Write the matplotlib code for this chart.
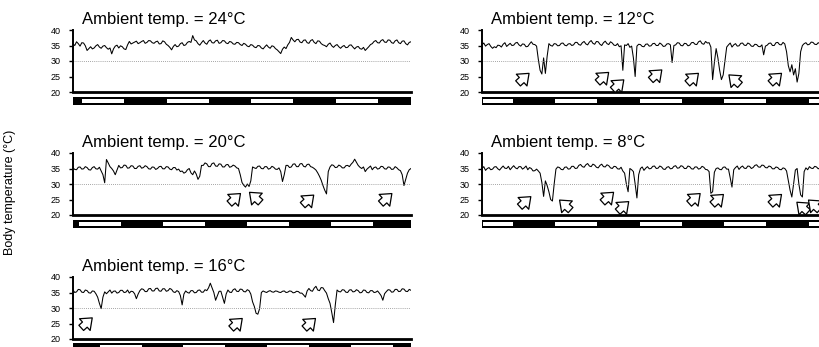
import numpy as np
import matplotlib
matplotlib.use("Agg")
import matplotlib.pyplot as plt
from matplotlib.transforms import ScaledTranslation

plt.rcParams['font.family'] = ['Liberation Sans', 'DejaVu Sans']

# ---------------- data (one reading every 0.5 h, 0-96 h) ----------------
STEP_H = 0.5

temp_24 = [35.5, 35.0, 36.2, 35.6, 34.8, 35.9, 35.8, 34.9, 33.4, 34.0, 34.6, 33.9, 34.2, 34.9, 35.3, 34.5,
           34.1, 34.8, 35.0, 34.3, 33.8, 34.2, 32.3, 33.9, 34.8, 35.1, 34.2, 34.9, 34.6, 33.9, 33.7, 35.2,
           36.3, 35.5, 35.8, 36.1, 36.4, 35.6, 35.9, 36.3, 36.6, 35.7, 36.0, 36.6, 36.5, 35.9, 35.7, 36.2,
           36.4, 35.5, 35.6, 36.5, 36.2, 35.4, 35.0, 34.4, 33.6, 34.7, 35.3, 34.6, 34.8, 35.6, 35.9, 35.0,
           35.2, 36.0, 36.3, 36.0, 38.2, 36.8, 36.5, 35.6, 35.1, 35.9, 36.6, 35.8, 35.4, 36.4, 36.8, 35.9,
           35.8, 36.5, 36.7, 35.7, 35.9, 36.6, 36.5, 35.8, 35.6, 36.3, 36.1, 35.5, 35.4, 36.0, 35.9, 35.3,
           35.0, 35.7, 35.4, 34.8, 34.6, 35.3, 35.1, 34.5, 34.3, 35.0, 34.9, 34.2, 33.9, 34.6, 35.2, 34.5,
           34.1, 34.9, 34.7, 34.0, 33.6, 33.0, 32.4, 33.8, 34.5, 34.0, 35.2, 36.0, 37.6, 36.8, 36.2, 36.9,
           37.0, 36.1, 35.9, 36.7, 36.8, 35.9, 35.7, 36.6, 36.9, 36.0, 35.6, 36.5, 36.4, 35.6, 35.2, 35.0,
           34.6, 35.4, 35.8, 34.9, 34.4, 35.0, 35.3, 34.6, 34.1, 34.7, 35.0, 34.3, 34.4, 35.1, 35.2, 34.5,
           33.9, 34.5, 34.7, 34.0, 33.8, 34.4, 33.4, 34.0, 34.6, 35.3, 35.6, 36.3, 36.6, 35.9, 35.8, 36.6,
           36.9, 36.1, 36.0, 36.8, 36.7, 35.9, 35.7, 36.5, 36.8, 35.9, 35.6, 36.4, 36.5, 35.6, 35.2, 36.0,
           36.2]

temp_12 = [35.2, 35.8, 34.8, 35.3, 35.6, 34.7, 34.1, 34.6, 34.3, 35.1, 35.0, 34.5, 35.4, 35.9, 34.7, 35.2,
           35.7, 35.0, 35.1, 35.8, 36.0, 35.2, 34.8, 35.5, 35.4, 34.6, 34.7, 35.5, 36.2, 35.4, 35.3, 34.8,
           30.5, 27.0, 25.8, 31.0, 26.0, 31.5, 35.6, 35.0, 34.8, 35.6, 35.5, 34.9, 35.0, 35.7, 35.8, 35.1,
           34.9, 35.5, 35.6, 35.0, 35.2, 36.0, 36.0, 35.3, 35.1, 35.9, 36.3, 35.5, 35.2, 36.1, 36.6, 35.7,
           35.4, 36.3, 36.2, 35.4, 35.0, 35.9, 36.4, 35.6, 35.3, 36.2, 35.8, 35.1, 35.0, 35.6, 34.6, 34.9,
           27.0, 35.2, 35.0, 35.6, 34.4, 34.8, 31.0, 25.0, 34.8, 35.4, 35.3, 34.7, 34.6, 35.4, 35.5, 34.8,
           34.9, 35.6, 35.7, 35.0, 35.0, 35.8, 35.4, 34.7, 34.8, 35.5, 35.6, 35.2, 29.5, 35.0, 35.2, 35.9,
           35.8, 35.0, 34.9, 35.7, 35.6, 34.9, 35.1, 35.9, 36.0, 35.4, 35.3, 36.2, 36.5, 35.6, 35.4, 36.3,
           35.8, 35.9, 34.5, 24.0, 29.5, 34.0, 31.0, 27.0, 24.0, 25.5, 30.0, 34.5, 35.2, 35.8, 34.5, 35.2,
           35.6, 34.8, 34.9, 35.7, 35.8, 35.1, 35.0, 35.8, 35.5, 34.8, 34.7, 35.4, 35.3, 34.7, 34.6, 35.2,
           32.0, 34.8, 35.1, 35.7, 35.8, 35.0, 35.0, 35.9, 36.0, 35.3, 35.2, 36.0, 35.5, 33.0, 28.5, 26.5,
           28.8, 25.5, 27.5, 23.2, 26.0, 33.0, 35.0, 35.6, 35.9, 35.2, 35.4, 36.1, 36.0, 35.4, 35.3, 35.9,
           35.6]

temp_20 = [35.2, 34.7, 34.6, 35.4, 35.5, 34.8, 34.9, 35.6, 35.3, 34.6, 34.5, 35.3, 35.6, 34.9, 34.8, 35.4,
           34.2, 33.0, 30.4, 37.9, 36.8, 35.6, 35.0, 34.2, 33.0, 34.5, 36.0, 35.2, 35.3, 36.1, 36.0, 35.1,
           35.2, 35.9, 35.8, 35.0, 35.0, 35.7, 35.9, 35.1, 35.3, 35.9, 35.6, 34.9, 34.8, 35.5, 35.4, 34.7,
           35.0, 35.6, 35.7, 34.9, 34.9, 35.6, 35.5, 34.8, 34.6, 35.3, 35.3, 34.5, 34.8, 34.0, 34.2, 33.5,
           33.8, 34.6, 35.0, 33.6, 33.0, 34.2, 33.2, 31.5, 32.5, 36.0, 36.0, 36.8, 36.5, 35.6, 35.6, 36.6,
           36.8, 35.8, 35.7, 36.5, 36.4, 35.5, 35.5, 36.2, 36.3, 35.4, 35.6, 36.1, 35.8, 35.2, 35.0, 33.0,
           30.5, 29.6, 29.0, 30.0, 29.2, 31.0, 35.5, 35.2, 35.0, 35.7, 35.8, 35.0, 34.9, 35.6, 35.6, 34.8,
           35.0, 35.7, 35.4, 34.8, 34.7, 35.2, 34.0, 30.8, 33.0, 36.0, 36.0, 35.3, 35.5, 36.4, 36.5, 35.6,
           35.6, 36.5, 36.6, 35.7, 35.5, 36.3, 36.4, 35.6, 35.4, 35.0, 34.5, 33.6, 32.5, 31.2, 29.5, 28.0,
           26.8, 34.0, 35.5, 36.2, 36.0, 35.3, 35.4, 36.1, 35.8, 35.2, 35.2, 35.9, 36.0, 35.6, 36.4, 37.0,
           38.0, 37.0, 36.0, 35.4, 35.0, 35.5, 34.0, 34.8, 35.3, 35.8, 34.6, 35.3, 35.5, 34.8, 35.0, 35.7,
           35.6, 34.9, 34.8, 35.5, 35.4, 34.7, 34.8, 35.6, 35.2, 34.6, 34.3, 33.0, 29.5, 31.5, 33.5, 34.6,
           35.0]

temp_8 = [35.0, 35.6, 34.4, 35.0, 35.3, 34.6, 34.8, 35.5, 35.6, 34.9, 34.5, 35.2, 35.8, 35.1, 35.0, 35.7,
          34.6, 35.3, 35.9, 35.2, 34.9, 35.6, 35.6, 34.8, 35.2, 35.8, 34.6, 35.3, 35.0, 34.2, 34.3, 34.8,
          34.2, 33.5, 30.5, 26.0, 31.0, 29.5, 27.5, 25.0, 24.5, 30.0, 34.8, 35.5, 35.3, 34.7, 34.6, 35.4,
          35.5, 34.8, 34.9, 35.7, 35.7, 35.0, 35.1, 36.0, 36.3, 35.6, 35.4, 36.2, 36.6, 35.8, 35.6, 36.4,
          36.1, 35.4, 35.2, 36.0, 36.4, 35.6, 35.5, 36.2, 35.9, 35.2, 35.0, 35.7, 35.6, 34.9, 34.8, 35.4,
          34.2, 33.5, 30.0, 27.5, 35.0, 34.6, 34.0, 30.0, 25.5, 33.0, 35.0, 35.5, 34.4, 35.1, 35.6, 34.9,
          35.0, 35.7, 35.8, 35.0, 35.1, 35.8, 35.5, 34.8, 34.7, 35.4, 35.6, 34.9, 35.0, 35.7, 35.9, 35.1,
          35.2, 35.9, 35.7, 35.0, 35.0, 35.8, 35.6, 34.9, 34.8, 35.5, 35.5, 34.8, 35.0, 35.7, 35.4, 34.7,
          34.6, 34.0, 27.0, 27.5, 33.8, 35.0, 35.2, 34.7, 34.6, 35.4, 35.5, 34.8, 34.8, 32.0, 29.0, 34.6,
          35.3, 35.8, 34.7, 35.4, 35.8, 35.1, 35.0, 35.8, 35.7, 35.0, 35.3, 36.0, 36.2, 35.5, 35.4, 36.1,
          36.0, 35.3, 35.2, 35.8, 35.6, 34.9, 34.9, 35.5, 35.3, 34.7, 34.6, 35.2, 35.0, 34.2, 31.0, 28.0,
          25.8, 30.0, 34.5, 35.0, 30.0, 26.5, 25.8, 34.0, 35.2, 34.6, 35.6, 35.1, 35.0, 35.7, 35.5, 34.9,
          35.2]

temp_16 = [35.8, 35.0, 35.2, 36.0, 35.9, 35.1, 35.0, 35.8, 35.6, 34.9, 34.8, 35.5, 35.4, 34.6, 33.5, 31.5,
           29.8, 33.5, 35.2, 34.6, 35.2, 35.8, 34.8, 35.4, 35.5, 34.8, 35.0, 35.7, 35.7, 35.0, 35.1, 35.8,
           34.8, 35.4, 35.3, 34.6, 33.0, 34.5, 35.6, 36.2, 36.0, 35.3, 35.3, 36.2, 36.3, 35.5, 35.5, 36.3,
           36.4, 35.5, 35.4, 36.2, 36.2, 35.4, 35.6, 36.3, 36.0, 35.2, 35.0, 35.6, 35.3, 34.0, 31.0, 34.5,
           35.5, 35.0, 34.8, 35.6, 35.6, 34.9, 35.0, 35.7, 35.8, 35.1, 35.1, 35.9, 35.6, 36.5, 38.0, 36.5,
           35.0, 32.5, 34.0, 35.4, 35.4, 33.5, 31.5, 34.5, 35.8, 35.1, 35.0, 35.9, 36.2, 35.4, 35.3, 36.1,
           36.0, 35.3, 35.2, 35.9, 35.6, 34.5, 32.0, 30.5, 28.3, 28.0, 29.8, 35.0, 35.5, 35.2, 35.0, 35.4,
           35.6, 35.2, 35.1, 35.5, 35.4, 35.1, 35.0, 35.4, 35.5, 35.0, 35.1, 35.5, 35.4, 34.9, 35.0, 35.4,
           35.3, 34.8, 34.8, 34.2, 33.5, 35.5, 36.3, 35.6, 35.4, 36.4, 37.0, 35.8, 35.6, 36.6, 36.5, 35.6,
           34.8, 33.0, 31.5, 28.5, 25.3, 31.0, 35.8, 35.3, 35.2, 35.9, 35.8, 35.1, 35.0, 35.8, 35.9, 35.2,
           35.3, 35.9, 35.6, 34.9, 35.0, 35.8, 35.7, 35.0, 34.9, 35.6, 35.6, 35.0, 35.1, 35.5, 34.8, 34.0,
           32.5, 34.6, 35.3, 35.9, 35.8, 35.1, 35.2, 36.0, 36.0, 35.3, 35.4, 36.2, 36.1, 35.4, 35.3, 36.0,
           35.7]

ambient = ["24", "12", "20", "8", "16"]

# light phase onsets (h); each light phase lasts 12 h
light_on_24 = [2.6, 26.6, 50.6, 74.6]
light_on_12 = [-3.2, 20.8, 44.8, 68.8, 92.8]
light_on_20 = [1.6, 25.5, 49.4, 73.3]
light_on_8 = [-3.2, 20.8, 44.8, 68.8, 92.8]
light_on_16 = [7.6, 31.2, 55.0, 79.0]
light_len = 12.0

# torpor arrows: (hour, temperature, direction)
arrows_12 = [(11.8, 24.4, 'R'), (34.4, 24.7, 'R'), (38.7, 22.3, 'R'), (49.5, 25.5, 'R'),
             (59.9, 24.4, 'R'), (71.7, 23.9, 'L'), (83.5, 24.4, 'R')]
arrows_20 = [(46.0, 25.3, 'R'), (51.7, 25.7, 'L'), (66.8, 24.8, 'R'), (89.0, 25.3, 'R')]
arrows_8 = [(12.3, 24.3, 'R'), (23.6, 23.2, 'L'), (35.8, 25.7, 'R'), (40.1, 22.7, 'R'),
            (60.4, 25.3, 'R'), (67.0, 25.0, 'R'), (83.5, 25.0, 'R'), (91.0, 22.5, 'L'), (94.3, 23.2, 'L')]
arrows_16 = [(3.9, 25.2, 'R'), (46.5, 25.0, 'R'), (67.3, 25.0, 'R')]
arrows_24 = []

yticks = [20, 25, 30, 35, 40]

# ---------------- layout ----------------
W, H = 819, 347
fig = plt.figure(figsize=(W / 100, H / 100), dpi=100)

def fx(px):
    return px / W

def fy(py):
    return 1 - py / H

col_x = [73, 482]
ax_w = 338
rows = [(30, 92, 97, 105), (153, 215, 220, 228), (277, 339, 343, 351)]

panels = [
    (0, 0, temp_24, ambient[0], light_on_24, arrows_24),
    (0, 1, temp_12, ambient[1], light_on_12, arrows_12),
    (1, 0, temp_20, ambient[2], light_on_20, arrows_20),
    (1, 1, temp_8, ambient[3], light_on_8, arrows_8),
    (2, 0, temp_16, ambient[4], light_on_16, arrows_16),
]

XMAX = 96.0

for r, c, temps, amb, lights, arrs in panels:
    assert len(temps) == 193, (amb, len(temps))
    hours = np.arange(len(temps)) * STEP_H
    top, bot, btop, bbot = rows[r]
    x0 = col_x[c]
    ax = fig.add_axes([fx(x0), fy(bot), fx(ax_w), (bot - top) / H])
    ax.plot(hours, temps, color='black', lw=0.75)
    ax.axhline(30, color='#888888', lw=0.6, ls=(0, (1, 1.5)))
    ax.set_xlim(0, XMAX)
    ax.set_ylim(20, 40)
    ax.set_yticks(yticks)
    ax.set_yticklabels([str(v) for v in yticks])
    ax.set_xticks([])
    ax.tick_params(axis='y', direction='out', length=3, width=1, pad=6, labelsize=6.5, colors='black')
    for s in ['top', 'right']:
        ax.spines[s].set_visible(False)
    ax.spines['left'].set_linewidth(1.4)
    ax.spines['bottom'].set_linewidth(2.0)
    ax.patch.set_alpha(0)
    ax.text(0.027, 1.0 + 6 / 62, 'Ambient temp. = ' + amb + '°C', transform=ax.transAxes,
            fontsize=12, ha='left', va='baseline')
    for (h, t, d) in arrs:
        sx = 0.055 if d == 'R' else -0.055
        head = ax.transData + ScaledTranslation(sx, 0.05, fig.dpi_scale_trans)
        tail = ax.transData + ScaledTranslation(-sx, -0.05, fig.dpi_scale_trans)
        ax.annotate('', xy=(h, t), xycoords=head, xytext=(h, t), textcoords=tail,
                    arrowprops=dict(arrowstyle='simple,head_length=0.6,head_width=0.95,tail_width=0.42',
                                    fc='white', ec='black', lw=0.9, shrinkA=0, shrinkB=0,
                                    mutation_scale=12),
                    annotation_clip=False)

    # light / dark bar
    bx = fig.add_axes([fx(x0), fy(bbot), fx(ax_w), (bbot - btop) / H])
    bx.set_facecolor('black')
    bx.set_xlim(0, XMAX)
    bx.set_ylim(0, 1)
    for on in lights:
        a = max(on, 0.35)
        b = min(on + light_len, XMAX - 0.35)
        if b > a:
            bx.axvspan(a, b, ymin=0.22, ymax=0.78, color='white', lw=0)
    bx.set_xticks([])
    bx.set_yticks([])
    for s in bx.spines.values():
        s.set_visible(False)

fig.text(fx(10), fy(192), 'Body temperature (°C)', rotation=90, fontsize=9,
         ha='center', va='center')

fig.savefig('out.png', dpi=100)
